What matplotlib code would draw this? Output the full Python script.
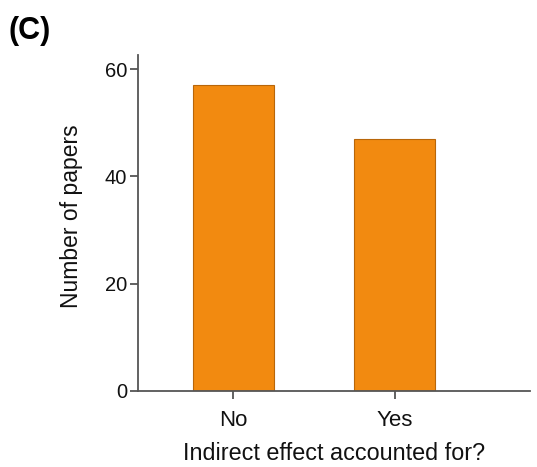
import matplotlib
matplotlib.use("Agg")
import matplotlib.pyplot as plt

categories = ["No", "Yes"]
counts = [57, 47]
yticks = [0, 20, 40, 60]

plt.rcParams['font.family'] = ['Liberation Sans', 'DejaVu Sans']

fig = plt.figure(figsize=(5.37, 4.67), dpi=100)
ax = fig.add_axes([0.257, 0.163, 0.73, 0.719])

x = list(range(len(categories)))
ax.bar(x, counts, width=0.5, color="#F28A10", edgecolor="#B8660A", linewidth=0.8)

ax.set_xlim(-0.59, 1.84)
ax.set_ylim(0, 62.6)
ax.set_xticks(x)
ax.set_xticklabels(categories)
ax.set_yticks(yticks)

for s in ["top", "right"]:
    ax.spines[s].set_visible(False)
for s in ["left", "bottom"]:
    ax.spines[s].set_color("#555555")
    ax.spines[s].set_linewidth(1.3)
ax.tick_params(axis="both", colors="#555555", length=6, width=1.3,
               labelcolor="#111111")
ax.tick_params(axis="x", labelsize=16, pad=8)
ax.tick_params(axis="y", labelsize=14.5, pad=2)

ax.set_xlabel("Indirect effect accounted for?", fontsize=16.8, labelpad=8, color="#111111")
ax.set_ylabel("Number of papers", fontsize=16.5, color="#111111")
ax.yaxis.set_label_coords(-0.14, 0.52)

fig.text(0.015, 0.965, "(C)", fontsize=22, fontweight="bold", va="top", ha="left")

fig.savefig("out.png", dpi=100)
